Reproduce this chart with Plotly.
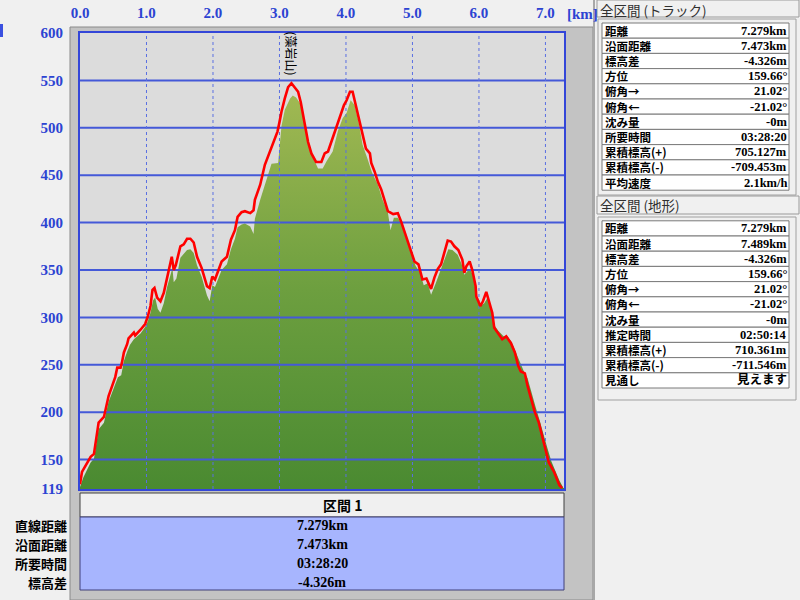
import plotly.graph_objects as go

# ---------------- data ----------------
track_km = [0.00, 0.03, 0.16, 0.21, 0.28, 0.36, 0.43, 0.48, 0.53, 0.56,
            0.61, 0.63, 0.66, 0.71, 0.73, 0.81, 0.83, 0.91, 0.98, 1.02,
            1.06, 1.09, 1.12, 1.16, 1.21, 1.26, 1.31, 1.34, 1.38, 1.41,
            1.44, 1.51, 1.56, 1.61, 1.66, 1.71, 1.76, 1.83, 1.91, 1.95,
            1.99, 2.03, 2.13, 2.21, 2.27, 2.33, 2.37, 2.43, 2.48, 2.56,
            2.61, 2.63, 2.71, 2.78, 2.86, 2.91, 2.97, 3.00, 3.03, 3.08,
            3.13, 3.18, 3.23, 3.28, 3.32, 3.36, 3.40, 3.43, 3.48, 3.55,
            3.63, 3.68, 3.73, 3.78, 3.83, 3.88, 3.93, 3.97, 4.01, 4.06,
            4.10, 4.13, 4.18, 4.22, 4.26, 4.30, 4.36, 4.38, 4.43, 4.48,
            4.53, 4.58, 4.63, 4.71, 4.78, 4.83, 4.88, 4.93, 4.98, 5.03,
            5.09, 5.15, 5.21, 5.28, 5.33, 5.38, 5.43, 5.48, 5.53, 5.58,
            5.63, 5.69, 5.75, 5.78, 5.81, 5.86, 5.90, 5.95, 5.96, 6.02,
            6.06, 6.11, 6.15, 6.20, 6.23, 6.28, 6.35, 6.41, 6.48, 6.54,
            6.59, 6.63, 6.69, 6.73, 6.78, 6.84, 6.90, 6.95, 7.00, 7.05,
            7.13, 7.18, 7.21, 7.25]
track_elev = [124, 137, 153, 156, 189, 195, 217, 228, 237, 247,
              247, 252, 263, 272, 278, 284, 281, 287, 293, 301,
              312, 329, 331, 321, 317, 326, 343, 352, 364, 350,
              355, 375, 377, 383, 383, 379, 364, 352, 333, 331,
              343, 340, 359, 364, 382, 392, 406, 411, 412, 410,
              413, 424, 440, 461, 475, 485, 496, 506, 517, 531,
              543, 547, 543, 538, 527, 510, 496, 485, 473, 464,
              464, 473, 475, 485, 496, 505, 515, 524, 529, 538,
              538, 529, 515, 503, 492, 478, 473, 463, 454, 443,
              435, 424, 412, 409, 410, 401, 391, 380, 371, 359,
              356, 340, 341, 330, 342, 351, 356, 368, 381, 380,
              375, 371, 361, 347, 354, 359, 350, 333, 322, 312,
              317, 327, 317, 305, 289, 284, 277, 280, 273, 263,
              249, 243, 241, 228, 214, 200, 189, 175, 158, 147,
              137, 128, 123, 120]

terrain_km = [0.00, 0.05, 0.16, 0.21, 0.28, 0.36, 0.43, 0.48, 0.53, 0.57,
              0.62, 0.66, 0.71, 0.75, 0.81, 0.91, 0.98, 1.02, 1.06, 1.10,
              1.13, 1.17, 1.21, 1.26, 1.31, 1.35, 1.39, 1.41, 1.45, 1.51,
              1.56, 1.61, 1.66, 1.71, 1.76, 1.83, 1.91, 1.95, 1.99, 2.03,
              2.13, 2.21, 2.27, 2.33, 2.37, 2.43, 2.48, 2.56, 2.61, 2.63,
              2.71, 2.78, 2.88, 2.98, 3.03, 3.08, 3.16, 3.20, 3.25, 3.31,
              3.38, 3.43, 3.49, 3.58, 3.65, 3.71, 3.80, 3.88, 3.95, 4.01,
              4.07, 4.13, 4.19, 4.25, 4.33, 4.39, 4.48, 4.55, 4.63, 4.67,
              4.72, 4.78, 4.84, 4.88, 4.94, 4.98, 5.05, 5.11, 5.17, 5.23,
              5.28, 5.35, 5.40, 5.48, 5.54, 5.60, 5.68, 5.74, 5.78, 5.83,
              5.87, 5.92, 5.96, 6.02, 6.08, 6.13, 6.19, 6.23, 6.29, 6.37,
              6.43, 6.49, 6.55, 6.61, 6.67, 6.73, 6.79, 6.85, 6.91, 6.97,
              7.03, 7.09, 7.15, 7.21, 7.27, 7.279]
terrain_elev = [121, 131, 147, 151, 182, 189, 211, 221, 229, 237,
                239, 254, 264, 271, 277, 283, 290, 296, 305, 318,
                321, 309, 305, 315, 332, 342, 352, 337, 341, 363,
                367, 371, 372, 368, 355, 343, 323, 317, 334, 332,
                350, 356, 372, 383, 395, 398, 399, 396, 388, 404,
                424, 440, 462, 463, 502, 519, 531, 534, 532, 526,
                503, 487, 471, 457, 457, 465, 475, 497, 510, 516,
                529, 524, 506, 482, 466, 453, 440, 424, 411, 392,
                405, 405, 398, 388, 376, 368, 354, 348, 334, 336,
                324, 336, 346, 362, 372, 371, 366, 356, 345, 349,
                351, 342, 323, 312, 315, 321, 306, 292, 286, 280,
                280, 274, 264, 252, 244, 236, 220, 206, 192, 176,
                162, 148, 137, 128, 120, 120]

x_ticks = [0, 1, 2, 3, 4, 5, 6, 7]
x_tick_labels = ["0.0", "1.0", "2.0", "3.0", "4.0", "5.0", "6.0", "7.0"]
x_unit = "[km]"
x_max = 7.279
y_ticks = [119, 150, 200, 250, 300, 350, 400, 450, 500, 550, 600]
y_tick_labels = [str(v) for v in y_ticks]
grid_y = [150, 200, 250, 300, 350, 400, 450, 500, 550]
grid_x = [1, 2, 3, 4, 5, 6, 7]

peak_name = "(藻岩山)"
peak_km = 3.18
peak_label_elev = 578

section_title = "区間 1"
section_labels = ["直線距離", "沿面距離", "所要時間", "標高差"]
section_values = ["7.279km", "7.473km", "03:28:20", "-4.326m"]

track_title = "全区間 (トラック)"
track_labels = ["距離", "沿面距離", "標高差", "方位", "俯角→", "俯角←",
                "沈み量", "所要時間", "累積標高(+)", "累積標高(-)", "平均速度"]
track_values = ["7.279km", "7.473km", "-4.326m", "159.66°", "21.02°", "-21.02°",
                "-0m", "03:28:20", "705.127m", "-709.453m", "2.1km/h"]

terrain_title = "全区間 (地形)"
terrain_labels = ["距離", "沿面距離", "標高差", "方位", "俯角→", "俯角←",
                  "沈み量", "推定時間", "累積標高(+)", "累積標高(-)", "見通し"]
terrain_values = ["7.279km", "7.489km", "-4.326m", "159.66°", "21.02°", "-21.02°",
                  "-0m", "02:50:14", "710.361m", "-711.546m", "見えます"]

# ---------------- layout geometry ----------------
W, H = 800, 600
L, R, T, B = 80, 236, 33, 111
PW, PH = W - L - R, H - T - B


def px(x):
    return (x - L) / PW


def py(y):
    return (H - B - y) / PH


AX_BLUE = "#2c43d2"
GRID_BLUE = "#4459d8"
NUM_FONT = "Liberation Serif"
JP_FONT = "Noto Sans CJK JP"

fig = go.Figure()

fig.add_trace(go.Scatter(
    x=terrain_km, y=terrain_elev, mode="lines",
    line=dict(width=0, color="rgba(0,0,0,0)"),
    fill="tozeroy",
    fillgradient=dict(type="vertical",
                      colorscale=[[0, "#4a8a31"], [0.5, "#6d9f3f"], [1, "#a2b953"]],
                      start=119, stop=540),
    hoverinfo="skip", showlegend=False))

gx, gy = [], []
for g in grid_y:
    gx += [0, x_max, None]
    gy += [g, g, None]
fig.add_trace(go.Scatter(x=gx, y=gy, mode="lines",
                         line=dict(color=GRID_BLUE, width=2),
                         hoverinfo="skip", showlegend=False))
vx, vy = [], []
for g in grid_x:
    vx += [g, g, None]
    vy += [119, 600, None]
fig.add_trace(go.Scatter(x=vx, y=vy, mode="lines",
                         line=dict(color="#5a6fe2", width=1, dash="dot"),
                         hoverinfo="skip", showlegend=False))

fig.add_trace(go.Scatter(x=track_km, y=track_elev, mode="lines",
                         line=dict(color="#ff0000", width=2.6),
                         hoverinfo="skip", showlegend=False))

shapes = []


def rect(x0, y0, x1, y1, fill, line=None, lw=1, layer="below"):
    shapes.append(dict(type="rect", xref="paper", yref="paper",
                       x0=px(x0), x1=px(x1), y0=py(y1), y1=py(y0),
                       fillcolor=fill,
                       line=dict(color=line or "rgba(0,0,0,0)", width=lw if line else 0),
                       layer=layer))


# grey frame panel around plot and bottom table
rect(70, 27, 593, 600, "#c3c3c3", "#8a8a8a", 1)
rect(80, 33, 564, 489, "#dcdcdc")
rect(593, 0, 595, 600, "#a8a8a8")
# little blue mark top-left
rect(0, 24, 3, 37, "#3a50e0")

# bottom table
rect(80, 493, 564, 517, "#f0f0f0", "#404040", 1)
rect(80, 517, 564, 590, "#a7b5fe", "#40407a", 1)

# right panels
rect(597, 0, 799, 17, "#f0f0f0", "#9a9a9a", 1)
rect(598, 19, 796, 195, "#f0f0f0", "#a0a0a0", 1)
rect(597, 196, 799, 214, "#f0f0f0", "#9a9a9a", 1)
rect(598, 217, 796, 400, "#f0f0f0", "#a0a0a0", 1)

row_h = 15.2
top1 = 23.0
top2 = 220.8
for i in range(len(track_labels)):
    rect(602, top1 + i * row_h, 789, top1 + (i + 1) * row_h, "#ffffff", "#7a7a7a", 1)
for i in range(len(terrain_labels)):
    rect(602, top2 + i * row_h, 789, top2 + (i + 1) * row_h, "#ffffff", "#7a7a7a", 1)

annotations = []


def text(x, y, s, size=14, color="#000000", family=JP_FONT, weight="bold",
         xanchor="left", textangle=0):
    annotations.append(dict(x=px(x), y=py(y), xref="paper", yref="paper",
                            text=s, showarrow=False, xanchor=xanchor, yanchor="middle",
                            textangle=textangle, borderpad=0,
                            font=dict(size=size, color=color, family=family, weight=weight)))


text(566, 14, x_unit, size=15, color=AX_BLUE, family=NUM_FONT)

text(322, 505, section_title, size=14)
for i, (lab, val) in enumerate(zip(section_labels, section_values)):
    yy = 525 + i * 19
    text(68, yy, lab, size=13, xanchor="right")
    text(322, yy, val, size=14, family=NUM_FONT + ", " + JP_FONT, xanchor="center")

text(599, 9.5, track_title, size=13.5, color="#303030", weight="normal")
text(599, 205, terrain_title, size=13.5, color="#303030", weight="normal")
for i, (lab, val) in enumerate(zip(track_labels, track_values)):
    yy = top1 + (i + 0.5) * row_h
    text(604, yy, lab, size=11.5)
    text(788, yy, val, size=12.5, family=NUM_FONT + ", " + JP_FONT, xanchor="right")
for i, (lab, val) in enumerate(zip(terrain_labels, terrain_values)):
    yy = top2 + (i + 0.5) * row_h
    text(604, yy, lab, size=11.5)
    text(788, yy, val, size=12.5, family=NUM_FONT + ", " + JP_FONT, xanchor="right")

annotations.append(dict(x=peak_km, y=peak_label_elev, xref="x", yref="y",
                        text=peak_name, showarrow=False, textangle=90,
                        font=dict(size=12, color="#000000", family=JP_FONT)))

fig.update_layout(
    width=W, height=H,
    margin=dict(l=L, r=R, t=T, b=B, pad=0, autoexpand=False),
    paper_bgcolor="#f0f0f0", plot_bgcolor="#dcdcdc",
    shapes=shapes, annotations=annotations,
    showlegend=False, hovermode=False,
    xaxis=dict(range=[0, x_max], side="top", tickmode="array",
               tickvals=x_ticks, ticktext=x_tick_labels, automargin=False,
               showgrid=False, zeroline=False,
               ticks="outside", ticklen=7, tickcolor="rgba(0,0,0,0)",
               showline=True, mirror=True, linecolor="#3346d8", linewidth=2,
               tickfont=dict(family=NUM_FONT, size=15, color=AX_BLUE, weight="bold")),
    yaxis=dict(range=[119, 600], tickmode="array",
               tickvals=y_ticks, ticktext=y_tick_labels, automargin=False,
               showgrid=False, zeroline=False, ticks="",
               showline=True, mirror=True, linecolor="#3346d8", linewidth=2,
               ticklabelstandoff=12,
               tickfont=dict(family=NUM_FONT, size=15, color=AX_BLUE, weight="bold")),
)

fig.write_html("out.html", config={"displayModeBar": False, "staticPlot": True},
               post_script="document.body.style.margin='0';document.body.style.overflow='hidden';")
